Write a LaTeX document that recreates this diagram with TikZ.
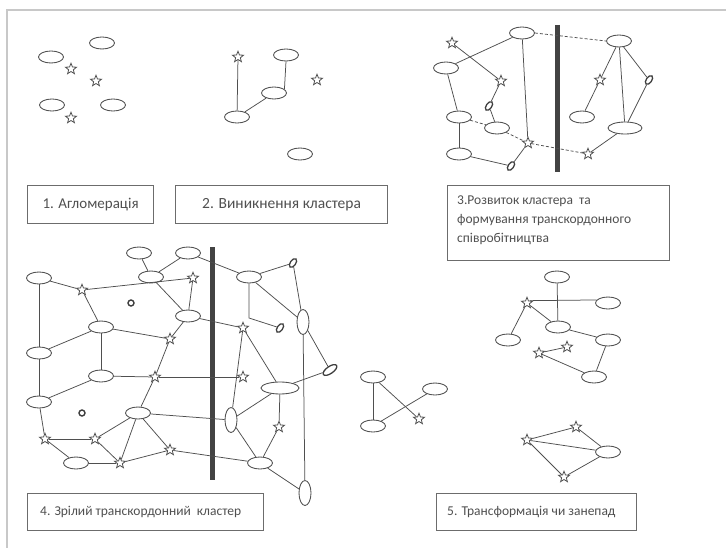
\documentclass[tikz,border=0pt]{standalone}
\usepackage{fontspec}
\setmainfont{Carlito}
\usetikzlibrary{shapes.geometric}
\definecolor{ln}{HTML}{4F4F4F}
\definecolor{txt}{HTML}{505050}
\definecolor{frm}{HTML}{C8C8C8}
\begin{document}
\begin{tikzpicture}[x=1pt,y=-1pt,
  el/.style={ellipse,draw=ln,line width=0.85pt,minimum width=25pt,minimum height=12pt,inner sep=0pt},
  wel/.style={el,minimum width=38pt},
  vel/.style={el,minimum width=12pt,minimum height=25pt},
  st/.style={star,star points=5,star point ratio=2.3,draw=ln,line width=0.8pt,minimum size=11.5pt,inner sep=0pt},
  seed/.style={ellipse,draw=ln!80!black,line width=1.3pt,minimum width=5.5pt,minimum height=10pt,inner sep=0pt,rotate=-35},
  bigseed/.style={seed,minimum width=7pt,minimum height=16pt,rotate=-20},
  ring/.style={circle,draw=ln!80!black,line width=1.4pt,minimum size=6pt,inner sep=0pt},
  cn/.style={draw=ln,line width=0.75pt},
  dcn/.style={cn,dash pattern=on 3pt off 2pt},
  bar/.style={line width=5pt,draw=ln!85!black},
  lbox/.style={rectangle,draw=gray!85!black,line width=1.2pt,inner sep=0pt,anchor=north west},
  lbl/.style={text=txt,font=\fontsize{15}{17}\selectfont,inner sep=0pt}]
\useasboundingbox (0,0) rectangle (726,551);
\fill[white] (0,0) rectangle (726,551);
\draw[frm,line width=1.5pt] (726,10) -- (7,10) -- (7,548);

% ---------- 1. Agglomeration
\node[el] (a1) at (51,57) {};
\node[el] (a2) at (102,43) {};
\node[el] (a3) at (52,105) {};
\node[el] (a4) at (113,105) {};
\node[st] (as1) at (71,69) {};
\node[st] (as2) at (96,81) {};
\node[st] (as3) at (71,118) {};

% ---------- 2. Emergence
\node[st] (bs1) at (238,57) {};
\node[el] (b1) at (286,55) {};
\node[st] (bs2) at (317,80) {};
\node[el] (b2) at (274,93) {};
\node[el] (b3) at (237,117) {};
\node[el] (b4) at (300,154) {};
\draw[cn] (bs1) -- (b3);
\draw[cn] (b1.south) -- (b2.20);
\draw[cn] (b2) -- (b3);

% ---------- 3. Development
\node[el] (c1) at (522,33) {};
\node[st] (cs1) at (452,43) {};
\node[el] (c2) at (446,68) {};
\node[st] (cs2) at (501,81) {};
\node[seed] (cd1) at (489,106) {};
\node[el] (c3) at (459,117) {};
\node[el] (c4) at (497,128) {};
\node[st] (cs3) at (528,143) {};
\node[el] (c5) at (459,154) {};
\node[seed] (cd2) at (511,166) {};
\node[el] (c6) at (619,41) {};
\node[st] (cs4) at (600,80) {};
\node[seed] (cd3) at (649,80) {};
\node[el] (c7) at (582,117) {};
\node[wel,minimum width=34pt] (c8) at (625,128) {};
\node[st] (cs5) at (588,154) {};
\draw[bar] (557,25) -- (557,172);
\draw[cn] (c1) -- (c2);
\draw[cn] (cs1) -- (cs2);
\draw[cn] (c1) -- (cs3);
\draw[dcn] (c1.east) -- (c6.west);
\draw[cn] (c2) -- (c3);
\draw[cn] (cs2) -- (cd1);
\draw[cn] (cd1) -- (c4);
\draw[dcn] (c3) -- (c4);
\draw[dcn] (c4) -- (cs3);
\draw[cn] (c3) -- (c5);
\draw[cn] (c5) -- (cd2);
\draw[cn] (cd2) -- (cs3);
\draw[dcn] (cs3) -- (cs5);
\draw[cn] (c6) -- (cs4);
\draw[cn] (cs4) -- (c7);
\draw[cn] (c6) -- (c8);
\draw[cn] (c6) -- (cd3);
\draw[cn] (cd3) -- (c8);
\draw[cn] (c8) -- (cs5);

% ---------- 4. Mature cluster
\node[el] (d1) at (39,278) {};
\node[el] (d2) at (139,253) {};
\node[el] (d3) at (188,253) {};
\node[el] (d4) at (151,277) {};
\node[st] (ds1) at (82,290) {};
\node[st] (ds2) at (193,278) {};
\node[ring] (dr1) at (131,303) {};
\node[el] (d5) at (188,316) {};
\node[el] (d6) at (101,327) {};
\node[st] (ds3) at (170,339) {};
\node[el] (d7) at (39,353) {};
\node[el] (d8) at (101,376) {};
\node[st] (ds4) at (155,377) {};
\node[el] (d9) at (39,402) {};
\node[ring] (dr2) at (82,413) {};
\node[el] (d10) at (138,413) {};
\node[st] (ds5) at (45,439) {};
\node[st] (ds6) at (95,439) {};
\node[st] (ds7) at (170,450) {};
\node[el] (d11) at (76,463) {};
\node[st] (ds8) at (120,463) {};
\node[el] (e1) at (249,277) {};
\node[seed] (ed1) at (293,263) {};
\node[vel] (e2) at (303,322) {};
\node[st] (es1) at (243,328) {};
\node[seed] (ed2) at (280,328) {};
\node[st] (es2) at (243,377) {};
\node[bigseed] (ed3) at (330,370) {};
\node[wel] (e3) at (280,388) {};
\node[vel] (e4) at (231,420) {};
\node[st] (es3) at (279,427) {};
\node[el] (e5) at (260,463) {};
\node[vel] (e6) at (305,493) {};
\coordinate (k1) at (249,318);
\draw[bar] (212,247) -- (212,480);
\draw[cn] (d1) -- (d7);
\draw[cn] (d7) -- (d9);
\draw[cn] (d9) -- (ds5);
\draw[cn] (d1) -- (ds1);
\draw[cn] (ds1) -- (ds2);
\draw[cn] (ds1) -- (d6);
\draw[cn] (d2) -- (d4);
\draw[cn] (d4) -- (d3);
\draw[cn] (d3) -- (e1);
\draw[cn] (d4) -- (d5);
\draw[cn] (ds2) -- (d5);
\draw[cn] (d5) -- (ds3);
\draw[cn] (d5) -- (es1);
\draw[cn] (d6) -- (d7);
\draw[cn] (d6) -- (ds3);
\draw[cn] (d6) -- (d8);
\draw[cn] (ds3) -- (ds4);
\draw[cn] (ds4) -- (es2);
\draw[cn] (d8) -- (ds4);
\draw[cn] (d8) -- (d9);
\draw[cn] (ds4) -- (d10);
\draw[cn] (d10) -- (e4);
\draw[cn] (d10) -- (ds6);
\draw[cn] (d10) -- (ds8);
\draw[cn] (d10) -- (ds7);
\draw[cn] (ds5) -- (ds6);
\draw[cn] (ds6) -- (ds8);
\draw[cn] (ds5) -- (d11);
\draw[cn] (d11) -- (ds8);
\draw[cn] (ds8) -- (ds7);
\draw[cn] (ds7) -- (e5);
\draw[cn] (e1) -- (ed1);
\draw[cn] (e1) -- (e2);
\draw[cn] (ed1) -- (e2);
\draw[cn] (e1) -- (k1) -- (ed2);
\draw[cn] (es1) -- (e4);
\draw[cn] (es1) -- (e3);
\draw[cn] (e2) -- (ed3);
\draw[cn] (e2) -- (e6);
\draw[cn] (ed3) -- (e3);
\draw[cn] (e3) -- (e4);
\draw[cn] (e3) -- (es3);
\draw[cn] (es3) -- (e5);
\draw[cn] (e4) -- (e5);
\draw[cn] (e5) -- (e6);

% ---------- middle fragment
\node[el] (f1) at (373,377) {};
\node[el] (f2) at (435,389) {};
\node[el] (f3) at (373,426) {};
\node[st] (fs1) at (419,419) {};
\draw[cn] (f1) -- (f3);
\draw[cn] (f1) -- (fs1);
\draw[cn] (f3) -- (f2);

% ---------- 5. Transformation
\node[el] (g1) at (557,277) {};
\node[el] (g2) at (608,303) {};
\node[st] (gs1) at (527,303) {};
\node[el] (g3) at (558,327) {};
\node[el] (g4) at (508,340) {};
\node[el] (g5) at (608,340) {};
\node[st] (gs2) at (567,347) {};
\node[st] (gs3) at (539,353) {};
\node[el] (g6) at (594,377) {};
\draw[cn] (g1) -- (g3);
\draw[cn] (gs1.40) -- (g2.165);
\draw[cn] (gs1) -- (g3);
\draw[cn] (gs1) -- (g4);
\draw[cn] (g3) -- (g5);
\draw[cn] (gs3) -- (gs2);
\draw[cn] (gs3) -- (g6);
\draw[cn] (g5) -- (g6);
\node[st] (hs1) at (576,427) {};
\node[st] (hs2) at (527,440) {};
\node[el] (h1) at (608,452) {};
\node[st] (hs3) at (564,477) {};
\draw[cn] (hs2) -- (hs1);
\draw[cn] (hs2) -- (h1);
\draw[cn] (hs1) -- (h1);
\draw[cn] (hs2) -- (hs3);
\draw[cn] (hs3) -- (h1);

% ---------- label boxes
\node[lbox,minimum width=126pt,minimum height=38pt] (t1) at (27,185) {};
\node[lbl] (l1) at (t1.center) {1. Агломерація};
\node[lbox,minimum width=212pt,minimum height=38pt] (t2) at (175,185) {};
\node[lbl,font=\fontsize{15.5}{17}\selectfont] (l2) at (t2.center) {2. Виникнення кластера};
\node[lbox,minimum width=222pt,minimum height=75pt] (t3) at (447,185) {};
\node[lbl,anchor=north west,align=left,font=\fontsize{13.5}{19}\selectfont] (l3) at (457,195.5) {3.Розвиток кластера\ \ та\\формування транскордонного\\співробітництва};
\node[lbox,minimum width=236pt,minimum height=37pt] (t4) at (27,493) {};
\node[lbl,anchor=west,font=\fontsize{13.5}{15}\selectfont] (l4) at (40,511.5) {4. Зрілий транскордонний\ \ кластер};
\node[lbox,minimum width=200pt,minimum height=37pt] (t5) at (436,493) {};
\node[lbl,anchor=west,font=\fontsize{13.5}{15}\selectfont] (l5) at (447,511.5) {5. Трансформація чи занепад};
\end{tikzpicture}
\end{document}
